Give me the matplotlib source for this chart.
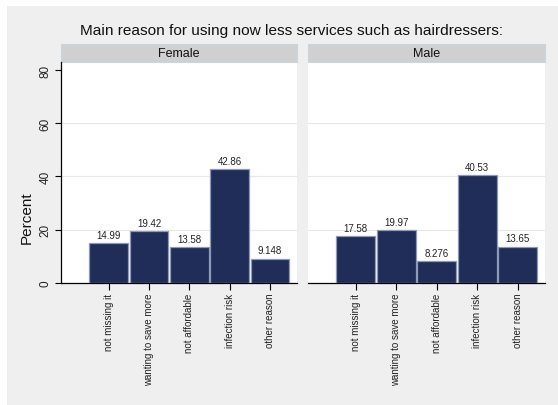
import matplotlib
matplotlib.use("Agg")
import matplotlib.pyplot as plt
from matplotlib.patches import Rectangle

plt.rcParams['font.family'] = ['Liberation Sans', 'DejaVu Sans']

# data
reasons = ['not missing it', 'wanting to save more', 'not affordable',
           'infection risk', 'other reason']
female = [14.99, 19.42, 13.58, 42.86, 9.148]
male = [17.58, 19.97, 8.276, 40.53, 13.65]
female_labels = ['14.99', '19.42', '13.58', '42.86', '9.148']
male_labels = ['17.58', '19.97', '8.276', '40.53', '13.65']
panels = [('Female', female, female_labels), ('Male', male, male_labels)]
yticks = [0, 20, 40, 60, 80]
gridlines = [20, 40, 60]

W, H = 558, 406
fig = plt.figure(figsize=(W / 100, H / 100), dpi=100, facecolor='white')

# gray graph region
fig.patches.append(Rectangle((7 / W, 0), 1 - 7 / W, 1 - 7 / H,
                             transform=fig.transFigure, facecolor='#efefef',
                             edgecolor='none', zorder=-1))

fig.text(292 / W, 1 - 31 / H,
         'Main reason for using now less services such as hairdressers:',
         ha='center', va='center', fontsize=11.1, color='#111111')

bar_color = '#1f2d58'
edge_color = '#8e99b8'
lefts = [61, 308]
widths = [236, 237]
bottom, top = 284, 63
x = list(range(len(reasons)))

for i, (name, vals, labs) in enumerate(panels):
    ax = fig.add_axes([lefts[i] / W, 1 - bottom / H, widths[i] / W, (bottom - top) / H])
    ax.set_facecolor('white')
    for g in gridlines:
        ax.axhline(g, color='#e8e8e8', linewidth=0.8, zorder=0)
    ax.bar(x, vals, width=0.96, color=bar_color, edgecolor=edge_color,
           linewidth=0.9, zorder=3)
    for xi, v, lab in zip(x, vals, labs):
        ax.text(xi, v + 1.2, lab, ha='center', va='bottom', fontsize=7,
                color='#222222')
    ax.set_xlim(-1.18, 4.67)
    ax.set_ylim(0, 83)
    ax.set_yticks(yticks)
    for s in ['top', 'right']:
        ax.spines[s].set_visible(False)
    ax.spines['bottom'].set_color('black')
    ax.spines['bottom'].set_linewidth(0.9)
    ax.set_xticks(x)
    ax.set_xticklabels(reasons, rotation=90, fontsize=7, color='#222222')
    ax.tick_params(axis='x', length=5, width=0.8, pad=2)
    if i == 0:
        ax.spines['left'].set_color('black')
        ax.spines['left'].set_linewidth(0.9)
        ax.set_yticklabels([str(t) for t in yticks], rotation=90, va='center',
                           fontsize=8.5, color='#222222')
        ax.tick_params(axis='y', length=4, width=0.8, pad=3)
    else:
        ax.spines['left'].set_visible(False)
        ax.tick_params(axis='y', left=False, labelleft=False)
    # strip header
    sh = 18 / (bottom - top)
    ax.add_patch(Rectangle((0, 1), 1, sh, transform=ax.transAxes,
                           facecolor='#d0d0d0', edgecolor='#c9d6dd',
                           linewidth=0.8, clip_on=False))
    ax.text(0.5, 1 + sh / 2, name, transform=ax.transAxes, ha='center',
            va='center', fontsize=9, color='#111111')

fig.text(27 / W, 1 - 218 / H, 'Percent', rotation=90, ha='center', va='center',
         fontsize=11, color='#111111')

fig.savefig('out.png', dpi=100, facecolor=fig.get_facecolor())
